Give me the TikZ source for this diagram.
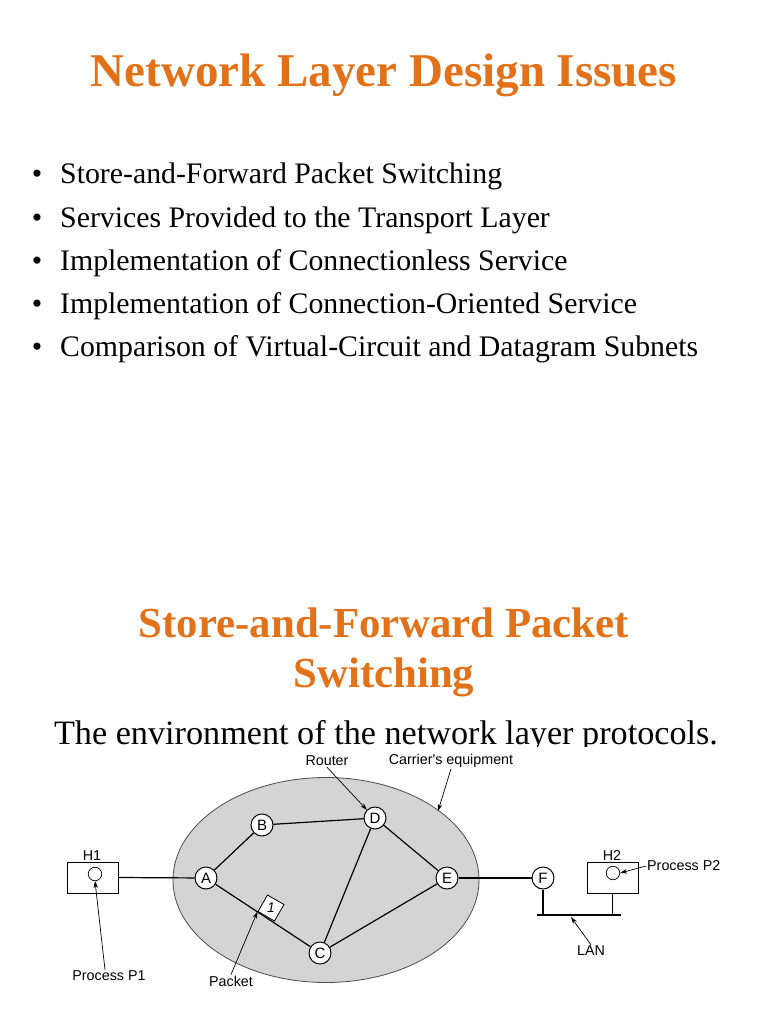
\documentclass[tikz,border=0pt]{standalone}
\usepackage{fontspec}
\usetikzlibrary{shapes.geometric,arrows.meta}
\setmainfont{Liberation Serif}
\newfontfamily\diagfont{Liberation Sans}
\definecolor{titleorange}{RGB}{226,113,24}
\definecolor{cloudgray}{RGB}{212,212,212}
\begin{document}
\begin{tikzpicture}[x=1pt,y=-1pt,
  titletext/.style={text=titleorange,font=\fontsize{47}{50}\selectfont\bfseries,inner sep=0pt,anchor=base},
  subtitletext/.style={text=titleorange,font=\fontsize{42.8}{46}\selectfont\bfseries,inner sep=0pt,anchor=base},
  bullettext/.style={font=\fontsize{29.8}{32}\selectfont,inner sep=0pt,anchor=base west},
  router/.style={circle,draw=black,fill=white,line width=1pt,minimum size=22pt,inner sep=0pt,font=\diagfont\fontsize{15}{15}\selectfont},
  host/.style={draw=black,fill=white,line width=0.8pt,minimum width=51pt,minimum height=31pt,inner sep=0pt},
  proc/.style={circle,draw=black,line width=0.7pt,minimum size=13.5pt,inner sep=0pt},
  lbl/.style={font=\diagfont\fontsize{14.3}{14.3}\selectfont,inner sep=1pt},
  link/.style={line width=1.2pt},
  pointer/.style={line width=0.7pt,-{Stealth[length=7pt,width=4.5pt]}}
]
\useasboundingbox (0,0) rectangle (768,1024);
\fill[white] (0,0) rectangle (768,1024);

% Title
\node[titletext] (title) at (384,87) {Network Layer Design Issues};

% Bullets
\foreach \i/\t in {0/Store-and-Forward Packet Switching,
                   1/Services Provided to the Transport Layer,
                   2/Implementation of Connectionless Service,
                   3/Implementation of Connection-Oriented Service,
                   4/Comparison of Virtual-Circuit and Datagram Subnets}{
  \node[bullettext] (b\i) at (60,{184+43*\i}) {\t};
  \node[bullettext,anchor=base] (d\i) at (37,{184+43*\i}) {\textbullet};
}

% Second title
\node[subtitletext] (st1) at (384,637) {Store-and-Forward Packet};
\node[subtitletext] (st2) at (384,687) {Switching};

% Caption (its lower part is hidden by the figure, as in the reference)
\node[font=\fontsize{34.2}{36}\selectfont,inner sep=0pt,text depth=0pt,anchor=base] (cap) at (386,744) {The environment of the network layer protocols.};
\fill[white] (40,747) rectangle (730,1000);

% Carrier cloud
\node[ellipse,draw=black!70,fill=cloudgray,line width=0.8pt,minimum width=306pt,minimum height=205pt,inner sep=0pt] (cloud) at (326,880) {};

% Hosts
\node[host] (H1) at (92.5,877.5) {};
\node[proc] (p1) at (95,874) {};
\node[lbl,anchor=south] (h1l) at (92,862) {H1};
\node[host] (H2) at (612.5,877.5) {};
\node[proc] (p2) at (613,873) {};
\node[lbl,anchor=south] (h2l) at (612,862) {H2};

% Routers
\node[router] (A) at (206,878) {A};
\node[router] (B) at (262,825) {B};
\node[router] (D) at (375,818) {D};
\node[router] (C) at (320,953) {C};
\node[router] (E) at (447,878) {E};
\node[router] (F) at (543,878) {F};

% Links
\draw[link] (H1.east) -- (A);
\draw[link] (A) -- (B);
\draw[link] (B) -- (D);
\draw[link] (D) -- (C);
\draw[link] (D) -- (E);
\draw[link] (A) -- (C);
\draw[link] (C) -- (E);
\draw[link] (E) -- (F);

% Packet
\node[draw=black,fill=white,line width=0.8pt,minimum size=19pt,inner sep=0pt,rotate=-30] (pkt) at (271,908) {};
\node[font=\diagfont\itshape\fontsize{14}{14}\selectfont,inner sep=0pt] (pktnum) at (pkt.center) {1};

% LAN
\coordinate (lanL) at (537,915);
\coordinate (lanR) at (621,915);
\draw[link] (lanL) -- (lanR);
\draw[link] (F.south) -- (F.south |- lanL);
\draw[link] (H2.south) -- (H2.south |- lanL);
\coordinate (lanpt) at (571,917);

% Labels with pointers
\node[lbl] (router) at (327,761) {Router};
\node[lbl] (carrier) at (451,761) {Carrier's equipment};
\coordinate (cloudpt) at (438,811);
\draw[pointer] (router.south) -- (D.north west);
\draw[pointer] (carrier.south) -- (cloudpt);

\node[lbl] (pp1) at (109,976) {Process P1};
\coordinate (pp1s) at ([xshift=-4pt]pp1.north);
\draw[pointer] (pp1s) -- (p1.south);

\node[lbl] (pkl) at (231,981) {Packet};
\draw[pointer] (pkl.north) -- (pkt.south west);

\node[lbl,anchor=west] (pp2) at (646,866) {Process P2};
\draw[pointer] (pp2.west) -- (p2.east);

\node[lbl] (lan) at (591,951) {LAN};
\draw[pointer] (lan.north) -- (lanpt);
\end{tikzpicture}
\end{document}
